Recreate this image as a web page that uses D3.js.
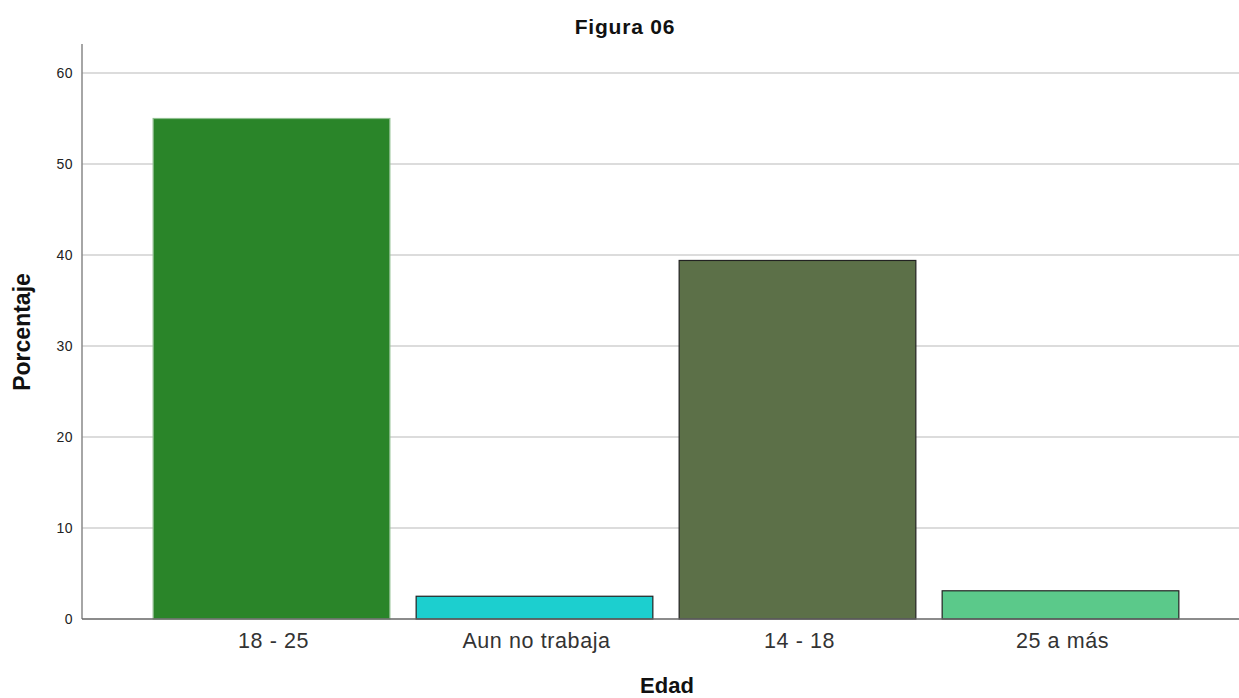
<!DOCTYPE html>
<html><head><meta charset="utf-8">
<script src="https://cdn.jsdelivr.net/npm/d3@7"></script>
<style>body{margin:0;background:#fff;font-family:"Liberation Sans",Arial,sans-serif;}</style>
</head><body>
<svg id="c" width="1239" height="698"></svg>
<script>
const categories = ["18 - 25", "Aun no trabaja", "14 - 18", "25 a más"];
const values = [55.0, 2.5, 39.4, 3.1];
const fills = ["#2a8529", "#1ccfcf", "#5c7048", "#5bc98a"];
const strokes = ["#8fbf8f", "#222", "#222", "#222"];
const yTicks = [0, 10, 20, 30, 40, 50, 60];

const svg = d3.select("#c");
const x = d3.scaleBand().domain(categories).range([140, 1192]).paddingInner(0.1).paddingOuter(0.05);
const y = d3.scaleLinear().domain([0, 60]).range([619, 73]);

// gridlines
svg.append("g").selectAll("line").data(yTicks.filter(d => d > 0)).join("line")
  .attr("x1", 82).attr("x2", 1239).attr("y1", d => y(d)).attr("y2", d => y(d))
  .attr("stroke", "#d0d0d0").attr("stroke-width", 1.5);

// bars
svg.append("g").selectAll("rect").data(values).join("rect")
  .attr("x", (d, i) => x(categories[i]))
  .attr("width", x.bandwidth())
  .attr("y", d => y(d))
  .attr("height", d => y(0) - y(d))
  .attr("fill", (d, i) => fills[i])
  .attr("stroke", (d, i) => strokes[i]).attr("stroke-width", 1.2);

// y axis
const ya = svg.append("g").attr("transform", "translate(82,0)")
  .call(d3.axisLeft(y).tickValues(yTicks).tickSize(0).tickPadding(9));
ya.select(".domain").remove();
ya.selectAll("text").attr("font-family", "Liberation Sans, Arial, sans-serif").attr("font-size", 14)
  .attr("letter-spacing", 0.5).attr("fill", "#222");
svg.append("line").attr("x1", 82).attr("x2", 82).attr("y1", 44).attr("y2", 619).attr("stroke", "#888").attr("stroke-width", 1.5);

// x axis
const xa = svg.append("g").attr("transform", "translate(0,619)")
  .call(d3.axisBottom(x).tickSize(0).tickPadding(14));
xa.select(".domain").remove();
xa.selectAll("text").attr("font-family", "Liberation Sans, Arial, sans-serif").attr("font-size", 21.5)
  .attr("letter-spacing", 0.6).attr("dx", 2).attr("fill", "#333");
svg.append("line").attr("x1", 82).attr("x2", 1239).attr("y1", 619).attr("y2", 619).attr("stroke", "#666").attr("stroke-width", 1.5);

// titles
svg.append("text").attr("x", 625).attr("y", 34).attr("text-anchor", "middle")
  .attr("font-size", 21).attr("font-weight", "bold").attr("letter-spacing", 0.8).attr("fill", "#111").text("Figura 06");
svg.append("text").attr("x", 667).attr("y", 693).attr("text-anchor", "middle")
  .attr("font-size", 22).attr("font-weight", "bold").attr("fill", "#111").text("Edad");
svg.append("text").attr("transform", "translate(30,332) rotate(-90)").attr("text-anchor", "middle")
  .attr("font-size", 23).attr("font-weight", "bold").attr("fill", "#111").text("Porcentaje");
</script>
</body></html>
